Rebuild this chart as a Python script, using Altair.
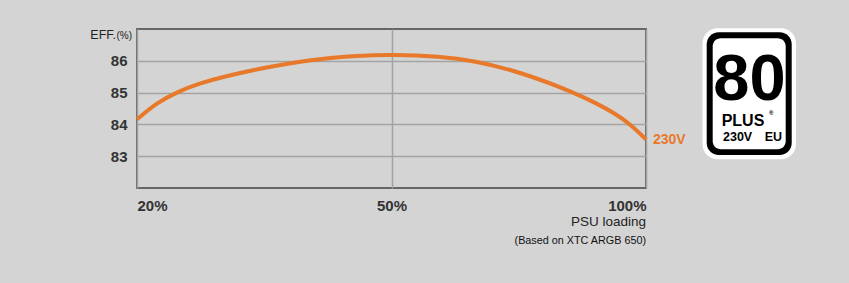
import altair as alt
import pandas as pd

# PSU loading (%) and efficiency (%)
loads = [20, 22.4, 24.8, 27.4, 30, 35.1, 40.4, 46.3, 50,
         59.6, 66.1, 75.3, 86.1, 90, 93.9, 97.1, 100]
effs = [84.16, 84.69, 85.03, 85.29, 85.49, 85.79, 86.04, 86.17, 86.20,
        86.14, 86.01, 85.65, 84.99, 84.68, 84.35, 83.98, 83.53]
series_name = "230V"

x_ticks = [20, 50, 100]
y_ticks = [83, 84, 85, 86]

FONT = "Liberation Sans, Arial, Helvetica, sans-serif"
ORANGE = "#E8792A"
TXT = "#333333"

W, H = 509, 159

df = pd.DataFrame({"load": loads, "eff": effs, "series": series_name})
one = pd.DataFrame({"k": [0]})

xscale = alt.Scale(domain=x_ticks, range=[0, W / 2, W])
yscale = alt.Scale(domain=[82, 87])

line = alt.Chart(df).mark_line(
    color=ORANGE, strokeWidth=4, interpolate="basis", clip=False
).encode(
    x=alt.X("load:Q", scale=xscale,
            axis=alt.Axis(values=x_ticks, title=None, ticks=False, domain=False,
                          labelExpr="datum.value + '%'", labelFlush=True,
                          labelPadding=10, labelFontSize=15, labelFont=FONT,
                          labelFontWeight="bold", labelColor=TXT,
                          grid=True, gridColor="#a3a3a3", gridWidth=1.5)),
    y=alt.Y("eff:Q", scale=yscale,
            axis=alt.Axis(values=y_ticks, title=None, ticks=False, domain=False,
                          labelPadding=10, labelFontSize=15, labelFont=FONT,
                          labelFontWeight="bold", labelColor=TXT,
                          grid=True, gridColor="#a3a3a3", gridWidth=1.5)),
)

end_label = alt.Chart(df).transform_filter(
    alt.datum.load == 100
).mark_text(
    align="left", baseline="middle", dx=7, dy=1, fontSize=14,
    fontWeight="bold", font=FONT, color=ORANGE
).encode(
    x=alt.X("load:Q", scale=xscale),
    y=alt.Y("eff:Q", scale=yscale),
    text="series:N",
)

def txt(s, x, y, size, align="left", weight="normal", color=TXT, font=FONT):
    return alt.Chart(one).mark_text(
        text=s, align=align, baseline="alphabetic", fontSize=size,
        fontWeight=weight, font=font, color=color
    ).encode(x=alt.value(x), y=alt.value(y))

eff_title = txt("EFF.", -21, 9.5, 12.5, align="right", color="#222222")
eff_unit = txt("(%)", -20.5, 9.5, 10, color="#222222")
psu = txt("PSU loading", W, 197, 13.5, align="right", color="#222222")
based = txt("(Based on XTC ARGB 650)", W, 215, 10.8, align="right", color="#111111")

def rrect(x1, x2, y1, y2, r, color):
    return alt.Chart(one).mark_rect(cornerRadius=r, color=color).encode(
        x=alt.value(x1), x2=alt.value(x2), y=alt.value(y1), y2=alt.value(y2)
    )

logo_outer = rrect(565.5, 659, -0.7, 130.3, 15, "#ffffff")
logo_black = rrect(569.7, 654.7, 3.3, 126, 12, "#000000")
logo_inner = rrect(575.7, 648.7, 9.3, 120.3, 8, "#ffffff")
logo_80 = txt("80", 612.5, 71, 65, align="center", weight="bold", color="#000000")
logo_plus = txt("PLUS", 606, 96.5, 16, align="center", weight="bold", color="#000000")
logo_reg = txt("®", 632, 85.5, 6, align="left", weight="bold", color="#000000")
logo_230 = txt("230V", 586, 112, 12.5, align="left", weight="bold", color="#000000")
logo_eu = txt("EU", 645, 112, 12.5, align="right", weight="bold", color="#000000")

chart = alt.layer(
    line, end_label, eff_title, eff_unit, psu, based,
    logo_outer, logo_black, logo_inner, logo_80, logo_plus, logo_reg, logo_230, logo_eu
).properties(
    width=W, height=H,
    background="#d4d4d4",
    padding={"left": 137, "top": 29, "right": 203, "bottom": 95},
    autosize=alt.AutoSizeParams(type="none"),
).configure_view(
    stroke="#666666", strokeWidth=2, fill=None
)

chart.save("out.html", embed_options={"renderer": "svg", "actions": False})
